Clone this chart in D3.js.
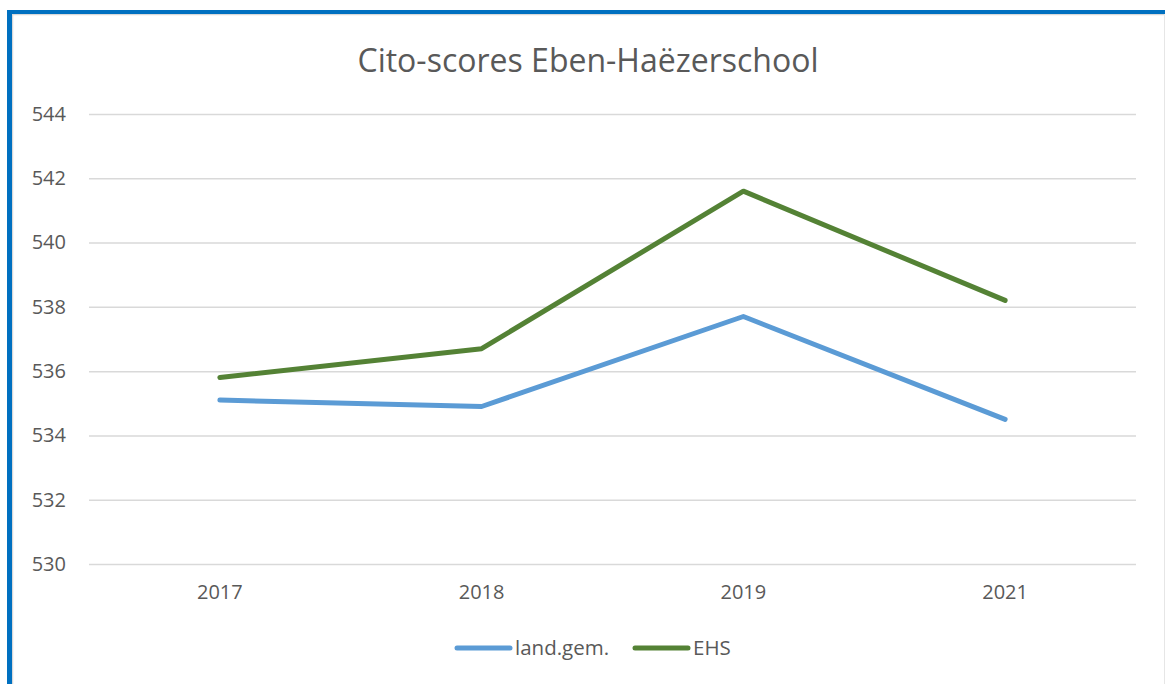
<!DOCTYPE html>
<html>
<head>
<meta charset="utf-8">
<script src="https://cdn.jsdelivr.net/npm/d3@7"></script>
<style>
body { margin: 0; background: #fff; }
text { font-family: "Open Sans", sans-serif; fill: #595959; }
</style>
</head>
<body>
<script>
var years = ["2017", "2018", "2019", "2021"];
var landGem = [535.1, 534.9, 537.7, 534.5];
var ehs = [535.8, 536.7, 541.6, 538.2];
var yTicks = [530, 532, 534, 536, 538, 540, 542, 544];
var seriesNames = ["land.gem.", "EHS"];
var colors = ["#5b9bd5", "#548235"];

var w = 1165, h = 684;
var svg = d3.select("body").append("svg").attr("width", w).attr("height", h);

// frame
svg.append("line").attr("x1", 12).attr("x2", w).attr("y1", 14.5).attr("y2", 14.5)
	.attr("stroke", "#d9d9d9").attr("stroke-width", 1.5);
svg.append("line").attr("x1", 12.5).attr("x2", 12.5).attr("y1", 14).attr("y2", h)
	.attr("stroke", "#d9d9d9").attr("stroke-width", 1.5);
svg.append("line").attr("x1", 1164.5).attr("x2", 1164.5).attr("y1", 14).attr("y2", h)
	.attr("stroke", "#e6e6e6").attr("stroke-width", 1);
svg.append("rect").attr("x", 7).attr("y", 10).attr("width", w - 7).attr("height", 4).attr("fill", "#0070c0");
svg.append("rect").attr("x", 7).attr("y", 10).attr("width", 5).attr("height", h - 10).attr("fill", "#0070c0");

var plotL = 89, plotR = 1136, plotT = 114, plotB = 564;
var x = d3.scaleBand().domain(years).range([plotL, plotR]);
var y = d3.scaleLinear().domain([530, 544]).range([plotB, plotT]);

svg.append("text").attr("x", 588).attr("y", 72).attr("text-anchor", "middle")
	.attr("font-size", "32px").text("Cito-scores Eben-Haëzerschool");

var yAxis = svg.append("g").attr("transform", "translate(" + plotL + ",0)")
	.call(d3.axisLeft(y).tickValues(yTicks).tickSize(-(plotR - plotL)).tickPadding(23).tickFormat(d3.format("d")));
yAxis.select(".domain").remove();
yAxis.selectAll("line").attr("stroke", "#d9d9d9").attr("stroke-width", 1.5);
yAxis.selectAll("text").attr("font-size", "20px").attr("fill", "#595959").attr("font-family", "Open Sans, sans-serif");

var xAxis = svg.append("g").attr("transform", "translate(0," + plotB + ")")
	.call(d3.axisBottom(x).tickSize(0).tickPadding(21));
xAxis.select(".domain").remove();
xAxis.selectAll("text").attr("font-size", "20px").attr("fill", "#595959").attr("font-family", "Open Sans, sans-serif");

var line = d3.line()
	.x(function(d, i) { return x(years[i]) + x.bandwidth() / 2; })
	.y(function(d) { return y(d); });

[landGem, ehs].forEach(function(s, i) {
	svg.append("path").attr("d", line(s)).attr("fill", "none")
		.attr("stroke", colors[i]).attr("stroke-width", 5)
		.attr("stroke-linecap", "round").attr("stroke-linejoin", "round");
});

// legend
var legX = [457, 635];
seriesNames.forEach(function(n, i) {
	svg.append("line").attr("x1", legX[i]).attr("x2", legX[i] + 53).attr("y1", 648).attr("y2", 648)
		.attr("stroke", colors[i]).attr("stroke-width", 5).attr("stroke-linecap", "round");
	svg.append("text").attr("x", legX[i] + 58).attr("y", 655).attr("font-size", "20.5px").text(n);
});
</script>
</body>
</html>
